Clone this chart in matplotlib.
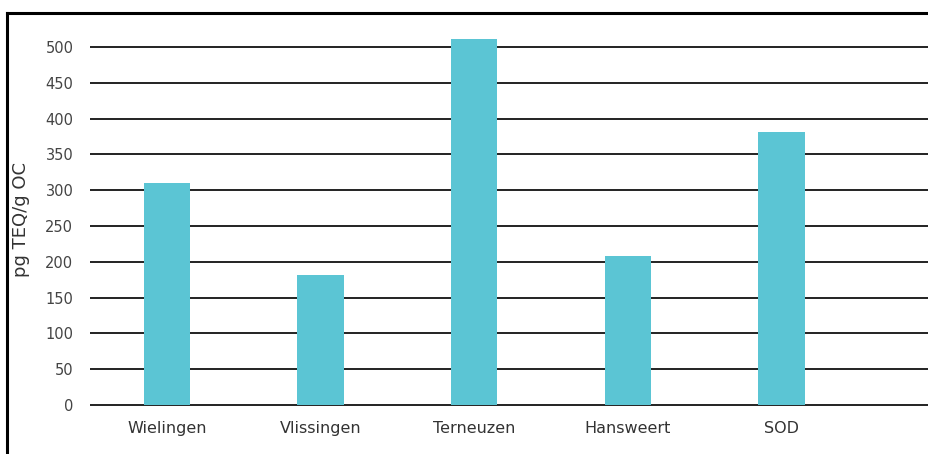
import matplotlib
matplotlib.use('Agg')
import matplotlib.pyplot as plt
from matplotlib.lines import Line2D

# data
locaties = ['Wielingen', 'Vlissingen', 'Terneuzen', 'Hansweert', 'SOD']
hodnoty = [310, 181, 511, 208, 382]
y_ticks = [0, 50, 100, 150, 200, 250, 300, 350, 400, 450, 500]

plt.rcParams['font.family'] = ['DejaVu Sans']

fig = plt.figure(figsize=(9.29, 4.54), dpi=100)
# osa: 0 -> y=405 px, 520 -> y=32.7 px (0.716 px na jednotku)
ax = fig.add_axes([90 / 929, 1 - 407 / 454, 1 - 90 / 929, (407 - 32.7) / 454])

x = list(range(len(locaties)))
ax.bar(x, hodnoty, width=0.3, color='#5bc5d4', zorder=3)

ax.set_ylim(-2.8, 520)
ax.set_xlim(-0.5, 4.96)
ax.set_yticks(y_ticks)
ax.set_xticks(x)
ax.set_xticklabels(locaties, fontsize=11.5, color='#333333')
ax.tick_params(axis='y', labelsize=10.5, colors='#444444', length=0, pad=12)
ax.tick_params(axis='x', length=0, pad=10)

ax.grid(axis='y', color='#111111', linewidth=1.3, zorder=0)
ax.set_axisbelow(True)
for s in ax.spines.values():
    s.set_visible(False)

ax.set_ylabel('pg TEQ/g OC', fontsize=13, color='#333333')
ax.yaxis.set_label_coords(-0.072, 0.5)

# ramecek kolem obrazku
fig.add_artist(Line2D([7 / 929, 1], [1 - 13 / 454, 1 - 13 / 454], color='black', lw=2.2))
fig.add_artist(Line2D([7 / 929, 7 / 929], [0, 1 - 13 / 454], color='black', lw=2.2))

fig.savefig('out.png', dpi=100)
